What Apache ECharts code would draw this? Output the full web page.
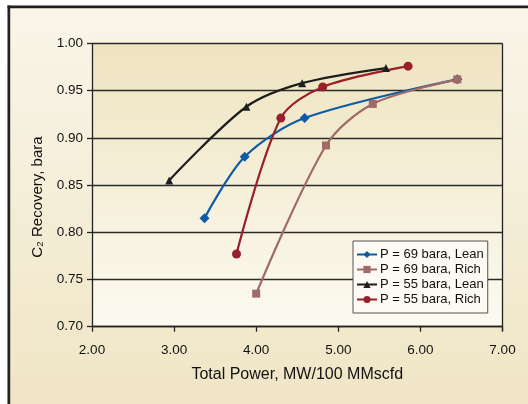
<!DOCTYPE html>
<html><head><meta charset="utf-8">
<script src="https://cdn.jsdelivr.net/npm/echarts@6/dist/echarts.min.js"></script>
<style>html,body{margin:0;padding:0;background:#fff}#c{width:528px;height:404px}</style>
</head><body><div id="c"></div>
<script>
const FONT = '"Liberation Sans Narrow","Liberation Sans",Arial,sans-serif';
const seriesNames = ['P = 69 bara, Lean', 'P = 69 bara, Rich', 'P = 55 bara, Lean', 'P = 55 bara, Rich'];
const lean69X = [3.37, 3.86, 4.59, 6.45];
const lean69Y = [0.815, 0.880, 0.921, 0.962];
const rich69X = [4.00, 4.85, 5.42, 6.45];
const rich69Y = [0.735, 0.892, 0.936, 0.962];
const lean55X = [2.94, 3.88, 4.56, 5.58];
const lean55Y = [0.855, 0.933, 0.958, 0.974];
const rich55X = [3.76, 4.30, 4.81, 5.85];
const rich55Y = [0.777, 0.921, 0.954, 0.976];
const xTicks = [2, 3, 4, 5, 6, 7];
const yTicks = [0.70, 0.75, 0.80, 0.85, 0.90, 0.95, 1.00];
const colors = ['#0d5ba6', '#a06a68', '#1e1e1e', '#98202a'];
const symbols = ['diamond', 'rect', 'triangle', 'circle'];
const symbolSizes = [10, 8, 8, 9];
const xs = [lean69X, rich69X, lean55X, rich55X];
const ys = [lean69Y, rich69Y, lean55Y, rich55Y];

const chart = echarts.init(document.getElementById('c'), null, {renderer: 'canvas'});
const series = seriesNames.map((n, i) => ({
  name: n, type: 'line', smooth: 0.3,
  data: xs[i].map((x, j) => [x, ys[i][j]]),
  symbol: symbols[i], symbolSize: symbolSizes[i],
  lineStyle: {color: colors[i], width: 2.2},
  itemStyle: {color: colors[i]},
  z: 3
}));
chart.setOption({
  animation: false,
  backgroundColor: {type: 'linear', x: 0, y: 0, x2: 0, y2: 1, colorStops: [{offset: 0, color: '#f9f6ea'}, {offset: 1, color: '#f0e5c5'}]},
  graphic: [
    {type: 'rect', shape: {x: 0, y: 0, width: 528, height: 5.5}, style: {fill: '#ffffff'}, z: 100},
    {type: 'rect', shape: {x: 0, y: 0, width: 7.5, height: 404}, style: {fill: '#ffffff'}, z: 100},
    {type: 'rect', shape: {x: 7.5, y: 5.5, width: 521, height: 2.7}, style: {fill: '#222222'}, z: 101},
    {type: 'rect', shape: {x: 7.5, y: 5.5, width: 2.7, height: 400}, style: {fill: '#222222'}, z: 101},
    {type: 'line', shape: {x1: 502.5, y1: 43.5, x2: 502.5, y2: 331}, style: {stroke: '#222', lineWidth: 1.3}, z: 50}
  ],
  grid: {left: 92, right: 25.5, top: 43.5, bottom: 77.3, show: true, borderWidth: 0,
    backgroundColor: {type: 'linear', x: 0, y: 0, x2: 0, y2: 1, colorStops: [{offset: 0, color: '#efe4c0'}, {offset: 1, color: '#fcfaf1'}]}},
  legend: {
    orient: 'vertical', left: 353, top: 241,
    data: seriesNames,
    backgroundColor: '#fcfaf2', borderColor: '#555', borderWidth: 1, borderRadius: 0,
    padding: [7, 4, 7, 3], itemGap: 2, itemWidth: 20, itemHeight: 9,
    textStyle: {fontFamily: FONT, fontSize: 13, color: '#111', padding: [0, 0, 0, -2]}
  },
  xAxis: {
    type: 'value', min: 2, max: 7, interval: 1,
    name: 'Total Power, MW/100 MMscfd', nameLocation: 'middle', nameGap: 40,
    nameTextStyle: {fontFamily: FONT, fontSize: 16, color: '#111'},
    axisLine: {show: true, lineStyle: {color: '#222', width: 1.3}},
    axisTick: {show: true, length: 5, inside: false, lineStyle: {color: '#222', width: 1.3}},
    axisLabel: {fontFamily: FONT, fontSize: 13.5, color: '#111', margin: 17, formatter: v => xTicks.includes(v) ? v.toFixed(2) : ''},
    splitLine: {show: false}
  },
  yAxis: {
    type: 'value', min: 0.70, max: 1.00, interval: 0.05,
    name: 'C\u2082 Recovery, bara', nameLocation: 'middle', nameGap: 47,
    nameTextStyle: {fontFamily: FONT, fontSize: 15, color: '#111', padding: [0, 24, 0, 0]},
    axisLine: {show: true, lineStyle: {color: '#222', width: 1.3}},
    axisTick: {show: true, length: 5, lineStyle: {color: '#222', width: 1.3}},
    axisLabel: {fontFamily: FONT, fontSize: 13.5, color: '#111', margin: 9, formatter: v => v.toFixed(2)},
    splitLine: {show: true, lineStyle: {color: '#2a2a2a', width: 1.3}}
  },
  series: series
});
</script></body></html>
